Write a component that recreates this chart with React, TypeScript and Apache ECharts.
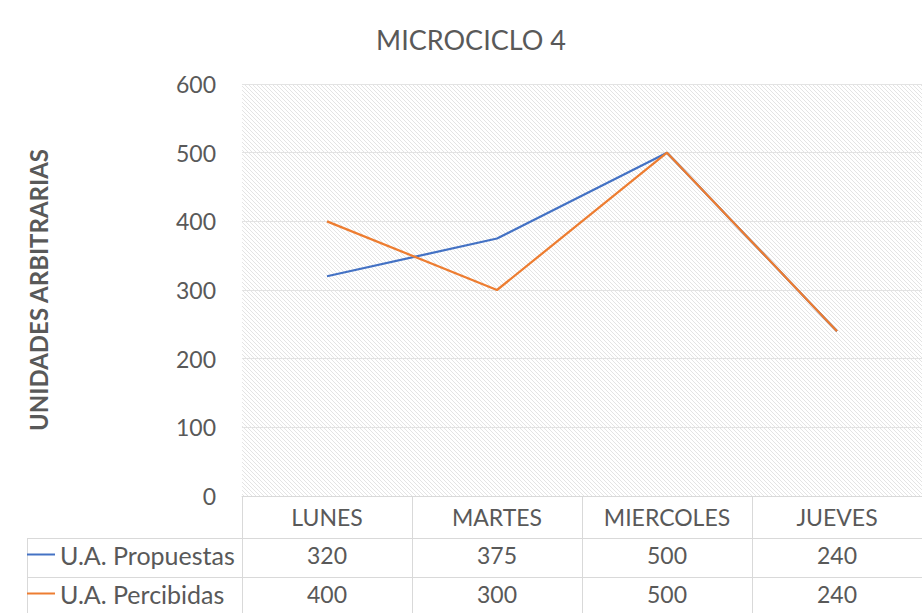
import React, { useEffect, useRef } from 'react';
import * as echarts from 'echarts';

const chartTitle = 'MICROCICLO 4';
const yAxisName = 'UNIDADES ARBITRARIAS';
const categories = ['LUNES', 'MARTES', 'MIERCOLES', 'JUEVES'];
const seriesNames = ['U.A. Propuestas', 'U.A. Percibidas'];
const propuestas = [320, 375, 500, 240];
const percibidas = [400, 300, 500, 240];
const yMin = 0;
const yMax = 600;
const yInterval = 100;

const FONT = 'Lato, "Open Sans", sans-serif';
const TEXT = '#595959';
const LINE = '#d9d9d9';
const COLORS = ['#4472C4', '#ED7D31'];

function makeHatch(): HTMLCanvasElement {
  const c = document.createElement('canvas');
  c.width = 4;
  c.height = 4;
  const ctx = c.getContext('2d')!;
  ctx.fillStyle = '#ffffff';
  ctx.fillRect(0, 0, 4, 4);
  ctx.fillStyle = '#e4e4e4';
  for (let i = 0; i < 4; i++) ctx.fillRect(i, i, 1, 1);
  return c;
}

export default function App() {
  const ref = useRef<HTMLDivElement>(null);
  useEffect(() => {
    if (!ref.current) return;
    const chart = echarts.init(ref.current, undefined, { renderer: 'svg' });
    const GRID_LEFT = 242;
    const GRID_TOP = 84;
    const AXIS_Y = 496;
    const ROW1 = 538;
    const ROW2 = 577;
    const rowAxis = (data: (string | number)[], offset: number, tickLen: number, margin: number) => ({
      type: 'category',
      data: data.map(String),
      position: 'bottom',
      offset,
      gridIndex: 0,
      boundaryGap: true,
      axisLine: { show: true, lineStyle: { color: LINE, width: 1 } },
      axisTick: { show: true, interval: 0, length: tickLen, lineStyle: { color: LINE, width: 1 } },
      axisLabel: { interval: 0, margin, color: TEXT, fontSize: 23, fontFamily: FONT },
      splitLine: { show: false },
    });
    chart.setOption({
      animation: false,
      backgroundColor: '#ffffff',
      title: {
        text: chartTitle,
        left: 466,
        textAlign: 'center',
        top: 21,
        textStyle: { color: TEXT, fontSize: 27, fontWeight: 'normal', fontFamily: FONT },
      },
      grid: {
        left: GRID_LEFT,
        right: 0,
        top: GRID_TOP,
        bottom: 613 - AXIS_Y,
        show: true,
        borderWidth: 0,
        backgroundColor: { image: makeHatch(), repeat: 'repeat' },
      },
      legend: seriesNames.map((n, i) => ({
        data: [n],
        left: 27,
        top: (i === 0 ? 556 : 595) - 19,
        padding: [5, 0, 5, 0],
        icon: 'rect',
        itemWidth: 28,
        itemHeight: 2,
        selectedMode: false,
        textStyle: { color: TEXT, fontSize: 25, fontFamily: FONT },
      })),
      xAxis: [
        rowAxis(categories, 0, ROW1 - AXIS_Y, 9),
        rowAxis(propuestas, ROW1 - AXIS_Y, ROW2 - ROW1, 5),
        rowAxis(percibidas, ROW2 - AXIS_Y, 45, 5),
      ],
      yAxis: {
        type: 'value',
        min: yMin,
        max: yMax,
        interval: yInterval,
        name: yAxisName,
        nameLocation: 'middle',
        nameRotate: 90,
        nameGap: 192,
        nameTextStyle: { color: TEXT, fontSize: 24, fontWeight: 'bold', fontFamily: FONT },
        axisLine: { show: false },
        axisTick: { show: false },
        axisLabel: { color: TEXT, fontSize: 23, fontFamily: FONT, margin: 26 },
        splitLine: { lineStyle: { color: '#e3e3e3', width: 1 } },
      },
      graphic: [
        { type: 'line', shape: { x1: 27, y1: ROW1 + 0.5, x2: GRID_LEFT, y2: ROW1 + 0.5 }, style: { stroke: LINE, lineWidth: 1 } },
        { type: 'line', shape: { x1: 27, y1: ROW2 + 0.5, x2: GRID_LEFT, y2: ROW2 + 0.5 }, style: { stroke: LINE, lineWidth: 1 } },
        { type: 'line', shape: { x1: 27.5, y1: ROW1, x2: 27.5, y2: 613 }, style: { stroke: LINE, lineWidth: 1 } },
      ],
      series: [
        {
          name: seriesNames[0],
          type: 'line',
          data: propuestas,
          xAxisIndex: 0,
          showSymbol: false,
          symbol: 'none',
          lineStyle: { color: COLORS[0], width: 2.25 },
          itemStyle: { color: COLORS[0] },
        },
        {
          name: seriesNames[1],
          type: 'line',
          data: percibidas,
          xAxisIndex: 0,
          showSymbol: false,
          symbol: 'none',
          lineStyle: { color: COLORS[1], width: 2.25 },
          itemStyle: { color: COLORS[1] },
        },
      ],
    });
    return () => chart.dispose();
  }, []);
  return <div ref={ref} style={{ position: 'fixed', left: 0, top: 0, width: 922, height: 613 }} />;
}
